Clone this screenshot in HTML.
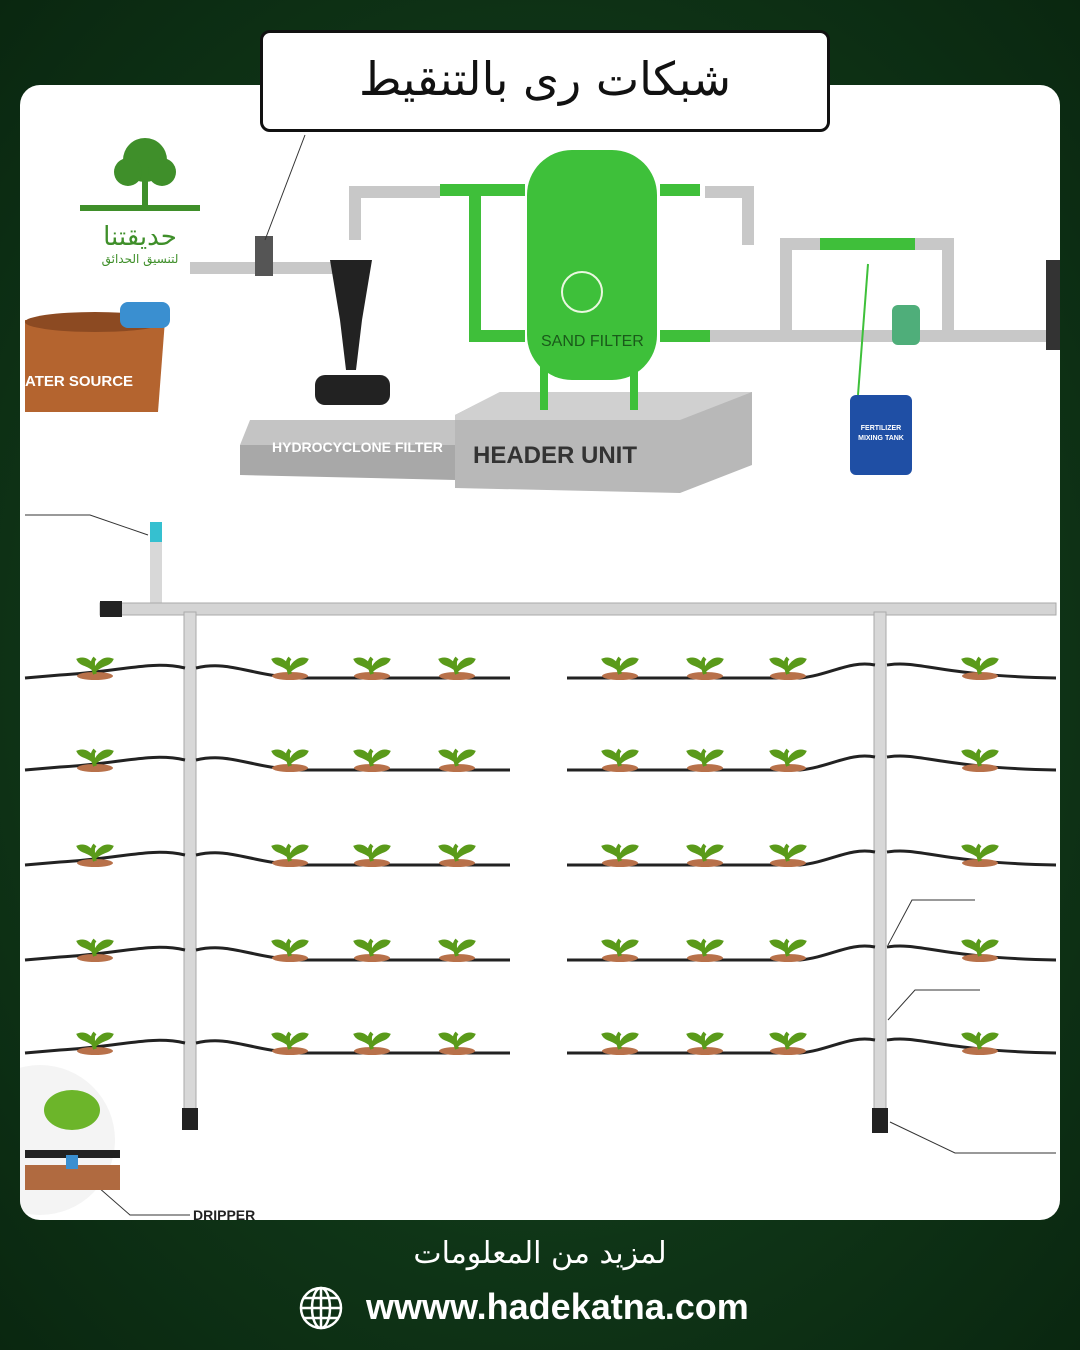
<!DOCTYPE html>
<html><head><meta charset="utf-8"><style>
html,body{margin:0;padding:0}
body{width:1080px;height:1350px;overflow:hidden;background:radial-gradient(ellipse at 50% 50%,#1f5a26 0%,#0f3517 60%,#0a2710 100%);position:relative;font-family:"Liberation Sans","Noto Sans CJK SC",sans-serif}
.panel{position:absolute;left:20px;top:85px;width:1040px;height:1135px;background:#fff;border-radius:20px;overflow:hidden}
.title{position:absolute;left:260px;top:30px;width:564px;height:96px;background:#fff;border:3px solid #111;border-radius:10px;text-align:center;font-family:"DejaVu Serif","DejaVu Sans",serif;font-size:46px;line-height:92px;color:#111}
.f1{position:absolute;left:0;width:1080px;top:1236px;text-align:center;color:#fff;font-family:"DejaVu Sans",sans-serif;font-size:30px}
.f2{position:absolute;left:366px;top:1286px;color:#fff;font-weight:bold;font-size:36px}
</style></head><body>
<div class="panel">
<svg width="1040" height="1135" viewBox="20 85 1040 1135" xmlns="http://www.w3.org/2000/svg">
<defs>
<g id="pl"><ellipse cx="0" cy="8" rx="18" ry="4" fill="#b8714a"/><path d="M0 6 C-2 0 -4 -6 0 -10 M0 2 C-6 -4 -14 -4 -16 -8 C-10 -10 -4 -6 0 2 M0 2 C6 -4 14 -4 16 -8 C10 -10 4 -6 0 2" stroke="#5a9a1a" stroke-width="4" fill="#7cc21f"/></g>
</defs>
<g fill="#3f8f2a"><circle cx="145" cy="160" r="22"/><circle cx="128" cy="172" r="14"/><circle cx="162" cy="172" r="14"/><rect x="80" y="205" width="120" height="6"/><rect x="142" y="175" width="6" height="32"/></g>
<text x="140" y="245" font-size="26" fill="#3f8f2a" text-anchor="middle" font-family="DejaVu Sans">حديقتنا</text>
<text x="140" y="263" font-size="12" fill="#3f8f2a" text-anchor="middle" font-family="DejaVu Sans">لتنسيق الحدائق</text>
<path d="M25 320 L165 320 L158 412 L25 412 Z" fill="#b4642f"/><ellipse cx="95" cy="322" rx="70" ry="10" fill="#8c4a22"/>
<text x="25" y="386" font-size="15" fill="#fff" font-weight="bold">ATER SOURCE</text>
<rect x="120" y="302" width="50" height="26" rx="8" fill="#3a8fd0"/>
<path d="M240 445 L455 445 L455 480 L240 475 Z" fill="#a8a8a8"/><path d="M250 420 L455 420 L455 445 L240 445 Z" fill="#c4c4c4"/>
<text x="272" y="452" font-size="14" fill="#fff" font-weight="bold">HYDROCYCLONE FILTER</text>
<path d="M455 415 L500 392 L752 392 L752 465 L680 493 L455 488 Z" fill="#b8b8b8"/><path d="M455 415 L500 392 L752 392 L680 420 L455 420 Z" fill="#d0d0d0"/>
<text x="473" y="463" font-size="24" fill="#333" font-weight="bold">HEADER UNIT</text>
<g stroke="#c8c8c8" stroke-width="12" fill="none"><path d="M190 268 L335 268"/><path d="M355 240 L355 192 L440 192"/><path d="M705 192 L748 192 L748 245"/><path d="M705 336 L1050 336"/><path d="M786 336 L786 244 L948 244 L948 336"/></g>
<g stroke="#3fbf3a" stroke-width="12" fill="none"><path d="M440 190 L525 190"/><path d="M475 190 L475 336 L525 336"/><path d="M660 190 L700 190"/><path d="M660 336 L710 336"/><path d="M820 244 L915 244"/></g>
<path d="M330 260 L372 260 L362 320 L356 370 L346 370 L340 320 Z" fill="#222"/><rect x="315" y="375" width="75" height="30" rx="10" fill="#222"/>
<rect x="255" y="236" width="18" height="40" fill="#555"/>
<rect x="527" y="150" width="130" height="230" rx="45" fill="#3ec03a"/>
<rect x="540" y="360" width="8" height="50" fill="#3ec03a"/><rect x="630" y="360" width="8" height="50" fill="#3ec03a"/>
<circle cx="582" cy="292" r="20" fill="none" stroke="#eaf8e0" stroke-width="2"/>
<text x="541" y="346" font-size="16" fill="#1a5a1a">SAND FILTER</text>
<rect x="850" y="395" width="62" height="80" rx="6" fill="#1f4fa5"/>
<text x="881" y="430" font-size="7" fill="#fff" text-anchor="middle" font-weight="bold">FERTILIZER</text>
<text x="881" y="440" font-size="7" fill="#fff" text-anchor="middle" font-weight="bold">MIXING TANK</text>
<path d="M868 264 L858 395" stroke="#3ec03a" stroke-width="2"/>
<rect x="892" y="305" width="28" height="40" rx="6" fill="#4fae7a"/>
<rect x="1046" y="260" width="14" height="90" fill="#333"/>
<path d="M265 240 L305 135" stroke="#333" stroke-width="1"/>
<path d="M25 515 L90 515 L148 535" stroke="#333" fill="none"/>
<rect x="150" y="535" width="12" height="70" fill="#d8d8d8"/><rect x="150" y="522" width="12" height="20" fill="#35c0d0"/>
<rect x="100" y="603" width="956" height="12" fill="#d4d4d4" stroke="#aaa"/>
<rect x="100" y="601" width="22" height="16" fill="#222"/>
<rect x="184" y="612" width="12" height="500" fill="#d8d8d8" stroke="#aaa"/><rect x="874" y="612" width="12" height="500" fill="#d8d8d8" stroke="#aaa"/>
<rect x="182" y="1108" width="16" height="22" fill="#222"/><rect x="872" y="1108" width="16" height="25" fill="#222"/>
<g stroke="#222" stroke-width="3" fill="none">
<path d="M25 678 L60 675 C120 672 150 660 185 668 M196 668 C230 660 250 676 300 678 L510 678 M567 678 L800 678 C830 675 850 660 875 665 M887 665 C920 660 940 676 1056 678"/>
<path d="M25 770 L60 767 C120 764 150 752 185 760 M196 760 C230 752 250 768 300 770 L510 770 M567 770 L800 770 C830 767 850 752 875 757 M887 757 C920 752 940 768 1056 770"/>
<path d="M25 865 L60 862 C120 859 150 847 185 855 M196 855 C230 847 250 863 300 865 L510 865 M567 865 L800 865 C830 862 850 847 875 852 M887 852 C920 847 940 863 1056 865"/>
<path d="M25 960 L60 957 C120 954 150 942 185 950 M196 950 C230 942 250 958 300 960 L510 960 M567 960 L800 960 C830 957 850 942 875 947 M887 947 C920 942 940 958 1056 960"/>
<path d="M25 1053 L60 1050 C120 1047 150 1035 185 1043 M196 1043 C230 1035 250 1051 300 1053 L510 1053 M567 1053 L800 1053 C830 1050 850 1035 875 1040 M887 1040 C920 1035 940 1051 1056 1053"/>
</g>
<g>
<use href="#pl" x="95" y="668"/><use href="#pl" x="290" y="668"/><use href="#pl" x="372" y="668"/><use href="#pl" x="457" y="668"/><use href="#pl" x="620" y="668"/><use href="#pl" x="705" y="668"/><use href="#pl" x="788" y="668"/><use href="#pl" x="980" y="668"/>
<use href="#pl" x="95" y="760"/><use href="#pl" x="290" y="760"/><use href="#pl" x="372" y="760"/><use href="#pl" x="457" y="760"/><use href="#pl" x="620" y="760"/><use href="#pl" x="705" y="760"/><use href="#pl" x="788" y="760"/><use href="#pl" x="980" y="760"/>
<use href="#pl" x="95" y="855"/><use href="#pl" x="290" y="855"/><use href="#pl" x="372" y="855"/><use href="#pl" x="457" y="855"/><use href="#pl" x="620" y="855"/><use href="#pl" x="705" y="855"/><use href="#pl" x="788" y="855"/><use href="#pl" x="980" y="855"/>
<use href="#pl" x="95" y="950"/><use href="#pl" x="290" y="950"/><use href="#pl" x="372" y="950"/><use href="#pl" x="457" y="950"/><use href="#pl" x="620" y="950"/><use href="#pl" x="705" y="950"/><use href="#pl" x="788" y="950"/><use href="#pl" x="980" y="950"/>
<use href="#pl" x="95" y="1043"/><use href="#pl" x="290" y="1043"/><use href="#pl" x="372" y="1043"/><use href="#pl" x="457" y="1043"/><use href="#pl" x="620" y="1043"/><use href="#pl" x="705" y="1043"/><use href="#pl" x="788" y="1043"/><use href="#pl" x="980" y="1043"/>
</g>
<g stroke="#333" fill="none" stroke-width="1"><path d="M975 900 L912 900 L888 945"/><path d="M980 990 L915 990 L888 1020"/><path d="M1056 1153 L955 1153 L890 1122"/><path d="M90 1180 L130 1215 L190 1215"/></g>
<circle cx="40" cy="1140" r="75" fill="#f4f4f4"/>
<path d="M25 1165 L120 1165 L120 1190 L25 1190 Z" fill="#b06a40"/>
<rect x="25" y="1150" width="95" height="8" fill="#222"/><rect x="66" y="1155" width="12" height="14" fill="#3a8fd0"/>
<ellipse cx="72" cy="1110" rx="28" ry="20" fill="#6cb52a"/>
<text x="193" y="1220" font-size="14" fill="#222" font-weight="bold">DRIPPER</text>
</svg>
</div>
<div class="title">شبكات ری بالتنقيط</div>
<div class="f1">لمزيد من المعلومات</div>
<svg style="position:absolute;left:298px;top:1285px" width="46" height="46" viewBox="0 0 46 46"><g stroke="#fff" stroke-width="2.5" fill="none"><circle cx="23" cy="23" r="20"/><ellipse cx="23" cy="23" rx="9" ry="20"/><path d="M3 23 H43 M6 13 H40 M6 33 H40 M23 3 V43"/></g></svg>
<div class="f2">wwww.hadekatna.com</div>
</body></html>
